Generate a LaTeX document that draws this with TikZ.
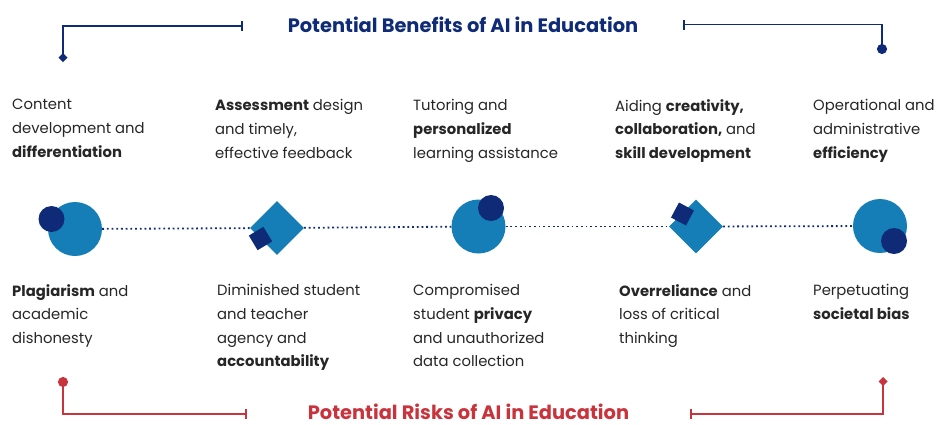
\documentclass[tikz,border=0pt]{standalone}
\usepackage{fontspec}
\setmainfont{Poppins}
\usetikzlibrary{arrows.meta,shapes.geometric}
\definecolor{navy}{HTML}{0F2B78}
\definecolor{midblue}{HTML}{157EB6}
\definecolor{riskred}{HTML}{C9343C}
\definecolor{ink}{HTML}{262626}
\tikzset{
  txt/.style={anchor=north west, inner sep=0pt, align=left, text=ink,
    font=\fontsize{14.8}{23.8}\selectfont},
  headline/.style={inner sep=0pt, font=\fontsize{19.4}{22}\selectfont\bfseries},
  bigdot/.style={circle, fill=midblue, minimum size=54pt, inner sep=0pt},
  smalldot/.style={circle, fill=navy, minimum size=26pt, inner sep=0pt},
  bigdiamond/.style={diamond, fill=midblue, minimum size=54pt, inner sep=0pt},
  smallsquare/.style={rectangle, fill=navy, minimum size=17pt, inner sep=0pt},
  bracket/.style={line width=1.8pt},
  dotline/.style={navy, line width=1.8pt, dash pattern=on 1.8pt off 2.9pt}
}
\def\tipbar{Bar[width=10pt,line width=1.8pt]}
\def\tipdot{Circle[length=10pt,width=10pt]}
\def\tipdiam{Turned Square[length=9pt,width=9pt]}

\begin{document}
\begin{tikzpicture}[x=1pt,y=-1pt]
  \useasboundingbox (0,0) rectangle (940,424);

  \node[headline, text=navy] (bene) at (463,25) {Potential Benefits of AI in Education};
  \node[headline, text=riskred] (risk) at (468.5,412) {Potential Risks of AI in Education};

  \coordinate (btl) at (63,62);   \coordinate (btlh) at (243,26);
  \coordinate (btr) at (882,54);  \coordinate (btrh) at (683,24.5);
  \coordinate (rbl) at (63,377);  \coordinate (rblh) at (247,414);
  \coordinate (rbr) at (883,377); \coordinate (rbrh) at (690,414);

  \draw[bracket, navy, {\tipdiam}-{\tipbar}] (btl) |- (btlh);
  \draw[bracket, navy, {\tipbar}-{\tipdot}] (btrh) -| (btr);
  \draw[bracket, riskred, {\tipdot}-{\tipbar}] (rbl) |- (rblh);
  \draw[bracket, riskred, {\tipbar}-{\tipdiam}] (rbrh) -| (rbr);

  \node[bigdot]     (i1) at (75,229) {};
  \node[bigdiamond] (i2) at (277,228) {};
  \node[bigdot]     (i3) at (478.5,226.5) {};
  \node[bigdiamond] (i4) at (696,226.5) {};
  \node[bigdot]     (i5) at (880,226) {};
  \foreach \a/\b in {i1/i2,i2/i3,i3/i4,i4/i5}
    \draw[dotline] (\a) -- (\b);
  \node[smalldot]    (s1) at (51.5,219) {};
  \node[smallsquare, rotate=31] (s2) at (260.5,238.5) {};
  \node[smalldot]    (s3) at (491,208) {};
  \node[smallsquare, rotate=-28] (s4) at (682.5,214) {};
  \node[smalldot]    (s5) at (894,241) {};

  \node[txt] (b1) at (12,99)  {Content\\development and\\\textbf{differentiation}};
  \node[txt] (b2) at (215,99) {\textbf{Assessment} design\\and timely,\\effective feedback};
  \node[txt] (b3) at (413,99) {Tutoring and\\\textbf{personalized}\\learning assistance};
  \node[txt] (b4) at (615,99) {Aiding \textbf{creativity,}\\\textbf{collaboration,} and\\\textbf{skill development}};
  \node[txt] (b5) at (813,99) {Operational and\\administrative\\\textbf{efficiency}};

  \node[txt] (r1) at (12,284)  {\textbf{Plagiarism} and\\academic\\dishonesty};
  \node[txt] (r2) at (217,284) {Diminished student\\and teacher\\agency and\\\textbf{accountability}};
  \node[txt] (r3) at (413,284) {Compromised\\student \textbf{privacy}\\and unauthorized\\data collection};
  \node[txt] (r4) at (619,284) {\textbf{Overreliance} and\\loss of critical\\thinking};
  \node[txt] (r5) at (813,284) {Perpetuating\\\textbf{societal bias}};
\end{tikzpicture}
\end{document}
